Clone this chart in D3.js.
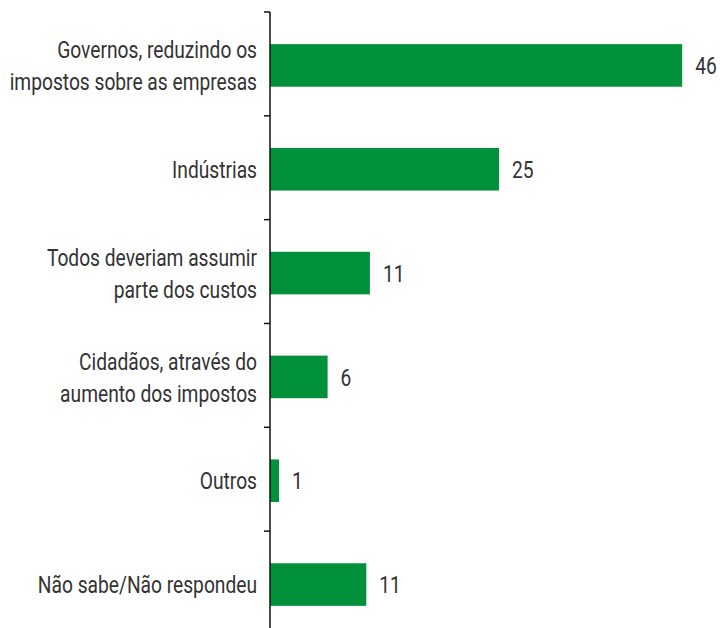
<!DOCTYPE html>
<html>
<head>
<meta charset="utf-8">
<script src="https://cdn.jsdelivr.net/npm/d3@7"></script>
<style>
  body { margin: 0; background: #fff; }
  svg { display: block; }
</style>
</head>
<body>
<script>
// categories (each label split in lines) and percentages
var categories = [
  ["Governos, reduzindo os", "impostos sobre as empresas"],
  ["Indústrias"],
  ["Todos deveriam assumir", "parte dos custos"],
  ["Cidadãos, através do", "aumento dos impostos"],
  ["Outros"],
  ["Não sabe/Não respondeu"]
];
var values = [45.8, 25.45, 11.1, 6.4, 1.0, 10.7];

var size = ({ width: 720, height: 628 });
var axisX = 270;
var squeeze = 0.8; // condensed look

var svg = d3.select("body").append("svg")
  .attr("width", size.width)
  .attr("height", size.height);

var y = d3.scaleBand()
  .domain(d3.range(values.length))
  .range([12, 636])
  .paddingInner(0.59)
  .paddingOuter(0.3);

var x = d3.scaleLinear()
  .domain([0, 50])
  .range([axisX, axisX + 450]);

var font = "Roboto, 'Liberation Sans', sans-serif";
var textColor = "#333";

// bars
svg.selectAll("rect.bar")
  .data(values)
  .join("rect")
  .attr("class", "bar")
  .attr("x", x(0))
  .attr("y", (d, i) => y(i) + 1)
  .attr("width", d => x(d) - x(0))
  .attr("height", y.bandwidth())
  .attr("fill", "#00913a");

// value labels
svg.selectAll("text.val")
  .data(values)
  .join("text")
  .attr("class", "val")
  .attr("transform", (d, i) => "translate(" + (x(d) + 13) + "," + (y(i) + y.bandwidth() / 2 + 1) + ") scale(" + squeeze + ",1)")
  .attr("dy", "0.36em")
  .style("font-family", font)
  .style("font-size", "24px")
  .attr("fill", textColor)
  .text(d => d3.format(".0f")(d));

// axis line + ticks at band edges
var step = y.step();
var g = svg.append("g");
g.append("line")
  .attr("x1", axisX).attr("x2", axisX)
  .attr("y1", 12).attr("y2", 636)
  .attr("stroke", "#111").attr("stroke-width", 1.5);

g.selectAll("line.tick")
  .data(d3.range(values.length))
  .join("line")
  .attr("class", "tick")
  .attr("x1", axisX - 6).attr("x2", axisX)
  .attr("y1", (d, i) => 12 + i * step)
  .attr("y2", (d, i) => 12 + i * step)
  .attr("stroke", "#111").attr("stroke-width", 1.5);

// category labels
var labels = svg.selectAll("text.cat")
  .data(categories)
  .join("text")
  .attr("class", "cat")
  .attr("text-anchor", "end")
  .style("font-family", font)
  .style("font-size", "24px")
  .attr("fill", textColor)
  .attr("transform", (d, i) => "translate(" + (axisX - 13) + "," + (y(i) + y.bandwidth() / 2 + 1) + ") scale(" + squeeze + ",1)");

labels.selectAll("tspan")
  .data(d => d.map((t, k) => ({ t: t, k: k, n: d.length })))
  .join("tspan")
  .attr("x", 0)
  .attr("y", d => (d.k - (d.n - 1) / 2) * 32)
  .attr("dy", "0.36em")
  .text(d => d.t);
</script>
</body>
</html>
